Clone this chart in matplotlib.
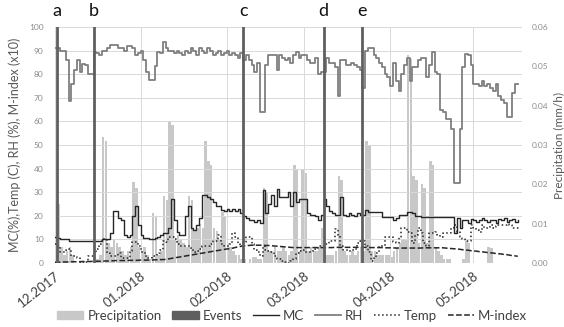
import matplotlib.pyplot as plt
import matplotlib.dates as mdates
from matplotlib.patches import Patch
from matplotlib.lines import Line2D
import pandas as pd

# daily values (Dec 2017 - May 2018)
rh = [91, 91, 90, 90, 86, 68.5, 76, 82, 86, 81,
      84.5, 84, 80, 80, 89.5, 89, 88, 90, 90, 91,
      92.5, 92.5, 92.5, 91, 91, 90, 92, 92, 91, 88,
      89, 90, 86, 81, 77.5, 77.5, 83.5, 89.5, 89, 93.5,
      91, 90, 90, 89, 90, 89, 88, 90, 89, 91,
      90, 88, 91, 90, 89, 91, 90, 88, 89, 90,
      88, 89, 90, 88, 89, 88, 87, 89, 86, 88,
      86, 84, 81, 85, 64, 64, 84, 88, 88,
      88, 82, 88, 87, 86, 87, 85, 88, 89.5, 87,
      88, 88, 86, 85, 85, 87, 80, 81, 81, 87,
      85, 85, 83, 71, 86, 86, 84, 84, 85, 84,
      83, 82, 74, 90, 91, 91, 88, 87, 85, 83,
      80, 79, 75, 85, 77, 73, 80, 84, 87,
      77, 83, 83, 86, 87, 87, 79, 84, 89.5, 81,
      80, 65, 64, 61, 61, 57, 34, 34, 57, 83,
      88.5, 88, 84, 76, 76, 75, 77, 75, 76, 74,
      73, 76, 71, 69, 68, 62, 62, 72, 76, 76]

mc = [11, 10.5, 10, 10, 10, 9.5, 9.5, 9.5, 9.5, 9.5,
      9.5, 9.5, 9.5, 9.5, 9.5, 9.5, 9.5, 10, 10, 10,
      12.5, 22, 22, 19, 18, 12, 11, 12, 20, 24,
      16, 12, 10.5, 10.5, 10, 10, 10.5, 11, 12, 12.5,
      12.5, 15, 27, 18, 13, 12, 12, 20, 24, 15,
      14, 16, 19, 29, 29, 28, 27, 26, 24, 24,
      22.5, 22, 23, 22, 23, 22, 23, 21, 20, 19,
      18, 18, 17.5, 18, 17, 31, 21, 25, 29,
      24, 31.5, 28, 28, 28, 30, 24, 30, 26, 27,
      27, 27, 21, 20.5, 20.5, 20, 18, 20.5, 27, 24,
      22, 21, 20.5, 20.5, 28, 20.5, 20, 21, 20.5, 20,
      21, 20.5, 20.5, 22.5, 21.5, 21.5, 21.5, 21.5, 21.5, 19.5,
      19.5, 19.5, 19.5, 18, 19, 20.5, 20.5, 20.5, 21.5,
      21.5, 21, 20, 20, 19.5, 19.5, 19.5, 19.5, 19.5, 19.5,
      19.5, 19.5, 19.5, 19.5, 19.5, 19.5, 12.5, 19, 15, 18,
      18, 17, 18.5, 18, 17.5, 18, 19, 18, 17.5, 18,
      18, 17, 18.5, 18, 19, 17.5, 18, 18.5, 17.5, 18]

temp = [8, 7, 4.5, 4.5, 5.5, 6, 3, 3, 2, 0.5,
        0, 0.5, 3, 3, 4, 6, 8, 10, 10, 4,
        3, 3, 3, 4, 2, 2, 2, 5, 9, 9,
        7, 4.5, 4, 2, 2, 3, 3, 4, 5.5, 9.5,
        9, 11, 11, 10, 8, 7, 7, 7, 7, 6,
        4.5, 5, 6, 7, 7, 7, 8, 9.5, 9.5, 12,
        8, 7, 7, 8, 12.5, 11, 8, 7, 9, 11,
        11, 8, 5.5, 4.5, 3, 7, 5.5, 5, 4.5,
        3, 1.5, 1.5, 1, 0.5, 0, 1, 1.5, 4, 5,
        5.5, 4.5, 4.5, 4.5, 5.5, 6, 7, 7, 7, 8,
        9.5, 9.5, 14.5, 12, 7, 5.5, 5.5, 5, 5.5, 6,
        8.5, 9.5, 9.5, 7, 4.5, 1, 2.5, 4, 7, 7,
        11, 11, 11, 9, 8.5, 11, 15, 15, 13,
        12.5, 8.5, 12, 15, 12.5, 8.5, 7, 12.5, 12.5, 13,
        12, 11, 12.5, 12.5, 12.5, 15, 16, 13, 11, 10,
        9.5, 9.5, 16, 15, 14, 13, 16, 15, 15, 16,
        15, 15.5, 16, 16, 16, 16.5, 16, 15, 15, 14]

m_index_x10 = [0.3, 0.3, 0.3, 0.4, 0.4, 0.4, 0.5, 0.5, 0.5, 0.5,
               0.6, 0.6, 0.6, 0.6, 0.7, 0.7, 0.7, 0.7, 0.8, 0.8,
               0.9, 0.9, 1.0, 1.0, 1.0, 1.0, 1.0, 1.1, 1.1, 1.1,
               1.1, 1.2, 1.2, 1.2, 1.2, 1.2, 1.3, 1.3, 1.4, 1.4,
               1.5, 1.7, 1.9, 2.1, 2.3, 2.5, 2.7, 2.9, 3.1, 3.3,
               3.5, 3.7, 3.9, 4.1, 4.3, 4.5, 4.7, 4.9, 5.1, 5.3,
               5.5, 5.7, 5.9, 6.0, 6.2, 6.5, 6.8, 7.0, 7.2, 7.3,
               7.4, 7.5, 7.5, 7.5, 7.5, 7.5, 7.4, 7.4, 7.3,
               7.2, 7.1, 7.0, 6.9, 6.8, 6.7, 6.6, 6.5, 6.5, 6.5,
               6.5, 6.5, 6.5, 6.5, 6.5, 6.5, 6.5, 6.5, 6.5, 6.5,
               6.5, 6.5, 6.6, 6.6, 6.6, 6.6, 6.6, 6.6, 6.6, 6.6,
               6.6, 6.6, 6.6, 6.6, 6.6, 6.5, 6.5, 6.5, 6.5, 6.5,
               6.4, 6.4, 6.4, 6.4, 6.3, 6.3, 6.3, 6.3, 6.3,
               6.3, 6.3, 6.3, 6.3, 6.3, 6.4, 6.4, 6.4, 6.4, 6.4,
               6.4, 6.4, 6.4, 6.3, 6.2, 6.1, 6.0, 5.9, 5.8, 5.6,
               5.5, 5.4, 5.2, 5.1, 5.0, 4.8, 4.7, 4.6, 4.4, 4.3,
               4.2, 4.0, 3.9, 3.8, 3.6, 3.5, 3.3, 3.1, 3.0, 2.8]

precip = [0.0157, 0.015, 0.004, 0.002, 0.003, 0.004, 0.002, 0, 0, 0,
          0, 0, 0, 0, 0, 0.001, 0.002, 0.032, 0.031, 0.005,
          0.004, 0.006, 0.005, 0.004, 0.003, 0.002, 0.003, 0.004, 0.0207, 0.019,
          0.004, 0.003, 0.004, 0.002, 0.001, 0.0127, 0.012, 0.002, 0.003, 0.017,
          0.016, 0.036, 0.035, 0.006, 0.007, 0.006, 0.005, 0.004, 0.017, 0.016,
          0.008, 0.009, 0.01, 0.009, 0.031, 0.026, 0.025, 0.009, 0.008, 0.006,
          0.013, 0.012, 0.005, 0.004, 0.003, 0.002, 0.002, 0.001, 0.001, 0,
          0.001, 0.0015, 0.0015, 0.001, 0.001, 0.019, 0.018, 0.003, 0.003,
          0.004, 0.003, 0.003, 0.004, 0.003, 0.002, 0.003, 0.025, 0.024, 0.003,
          0.024, 0.023, 0.003, 0.004, 0.003, 0.003, 0.004, 0.009, 0.003, 0.002,
          0.002, 0.002, 0.003, 0.022, 0.021, 0.003, 0.002, 0.002, 0.003, 0.002,
          0.003, 0.004, 0.003, 0.031, 0.030, 0.003, 0.003, 0.002, 0.002, 0.002,
          0.002, 0.002, 0.0015, 0.003, 0.004, 0.005, 0.006, 0.006, 0.053,
          0.052, 0.022, 0.021, 0.005, 0.02, 0.019, 0.005, 0.026, 0.025, 0.004,
          0.003, 0.002, 0.001, 0.001, 0.001, 0, 0, 0, 0, 0.001,
          0.0055, 0.005, 0, 0, 0, 0, 0, 0, 0.004, 0.0038,
          0, 0, 0, 0, 0, 0, 0, 0, 0, 0]

event_labels = ['a', 'b', 'c', 'd', 'e']
event_dates = ['2017-12-01 16:00', '2017-12-15 00:00', '2018-02-07 00:00',
               '2018-03-08 00:00', '2018-03-22 00:00']

dates = pd.date_range('2017-12-01', periods=len(rh), freq='D')
events = pd.to_datetime(event_dates, format='%Y-%m-%d %H:%M')

plt.rcParams['font.family'] = ['Lato', 'DejaVu Sans']

fig = plt.figure(figsize=(5.64, 3.27), dpi=100)
ax = fig.add_axes([0.097, 0.196, 0.829, 0.721])
ax2 = ax.twinx()

# precipitation bars behind the lines
ax2.bar(dates, precip, width=0.9, align='edge', color='#c8c8c8', zorder=1)
ax2.set_ylim(0, 0.06)
ax2.set_yticks([0, 0.01, 0.02, 0.03, 0.04, 0.05, 0.06])
ax2.set_yticklabels(['0.00', '0.01', '0.02', '0.03', '0.04', '0.05', '0.06'])
ax.set_zorder(ax2.get_zorder() + 1)
ax.patch.set_visible(False)

ax.step(dates, rh, where='post', color='#7f7f7f', lw=1.3)
ax.step(dates, mc, where='post', color='#262626', lw=1.0)
ax.step(dates, temp, where='post', color='#262626', lw=1.1, ls=':')
ax.plot(dates, m_index_x10, color='#262626', lw=1.1, ls='--')

for lab, d in zip(event_labels, events):
    ax.axvline(d, color='#5f5f5f', lw=2, zorder=5)
    ax.text(d, 103.5, lab, ha='center', va='bottom', fontsize=13, color='#111111', clip_on=False)

ax.set_ylim(0, 100)
ax.set_yticks(range(0, 101, 10))
ax.set_xlim(pd.Timestamp('2017-12-01'), pd.Timestamp('2018-05-18 15:00'))
ax.xaxis.set_major_locator(mdates.MonthLocator())
ax.xaxis.set_major_formatter(mdates.DateFormatter('%m.%Y'))
for lbl in ax.get_xticklabels():
    lbl.set_rotation(38)
    lbl.set_ha('right')
    lbl.set_rotation_mode('anchor')

ax.grid(True, color='#d9d9d9', lw=0.7)
for a in (ax, ax2):
    for s in a.spines.values():
        s.set_visible(False)
    a.tick_params(length=0)
ax.tick_params(axis='y', labelsize=6, labelcolor='#8c8c8c', pad=8)
ax2.tick_params(axis='y', labelsize=6, labelcolor='#8c8c8c', pad=7)
ax.tick_params(axis='x', labelsize=9.5, labelcolor='#404040', pad=5)

ax.set_ylabel('MC(%),Temp (C), RH (%), M-index (x10)', fontsize=9, color='#595959', labelpad=6)
ax2.set_ylabel('Precipitation (mm/h)', fontsize=8.5, color='#595959', labelpad=4)

handles = [Patch(color='#c8c8c8'), Patch(color='#5f5f5f'),
           Line2D([], [], color='#262626', lw=1.0),
           Line2D([], [], color='#7f7f7f', lw=1.3),
           Line2D([], [], color='#262626', lw=1.1, ls=':'),
           Line2D([], [], color='#262626', lw=1.1, ls='--')]
names = ['Precipitation', 'Events', 'MC', 'RH', 'Temp', 'M-index']
fig.legend(handles, names, loc='center', bbox_to_anchor=(0.518, 0.035), ncol=6,
           frameon=False, fontsize=9.5, handlelength=2.0, handleheight=0.6,
           columnspacing=0.8, handletextpad=0.3, labelcolor='#404040')

fig.savefig('out.png', dpi=100)
